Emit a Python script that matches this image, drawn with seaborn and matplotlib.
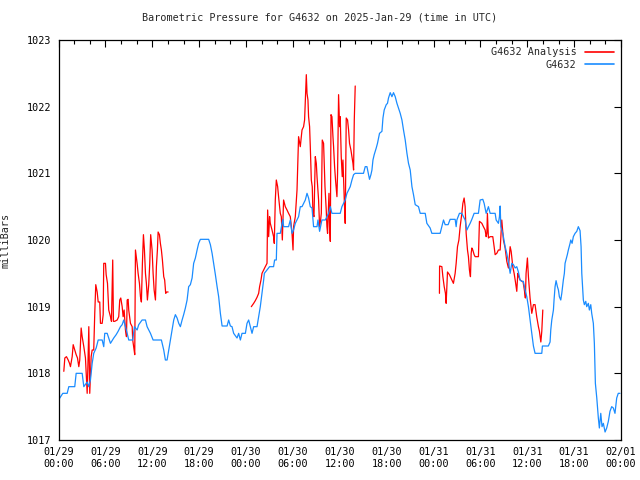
"""Barometric pressure for G4632 -- observed vs analysis, 2025-Jan-29 .. Feb-01."""

import matplotlib

matplotlib.use("Agg")
import matplotlib.dates as mdates
import matplotlib.pyplot as plt
import numpy as np
import pandas as pd
import seaborn as sns
from matplotlib.lines import Line2D

START = pd.Timestamp("2025-01-29 00:00")

# observed station pressure (hours since start, mbar)
obs_hours = [
    0.00, 0.55, 1.11, 1.32, 2.08, 2.26, 3.03, 3.24, 3.67, 3.87, 4.09, 4.31, 4.51,
    4.82, 5.08, 5.59, 5.79, 5.92, 6.23, 6.43, 6.65, 7.07, 7.38, 7.63, 7.93, 8.15,
    8.35, 8.57, 8.79, 8.99, 9.50, 9.72, 10.06, 10.27, 10.70, 11.13, 11.34, 11.77,
    12.11, 13.17, 13.47, 13.68, 13.90, 14.11, 14.32, 14.54, 14.75, 14.96, 15.18,
    15.39, 15.60, 15.82, 16.02, 16.24, 16.46, 16.66, 16.88, 17.10, 17.30, 17.52,
    17.74, 17.94, 18.16, 19.22, 19.44, 19.66, 19.86, 20.08, 20.30, 20.50, 20.72,
    20.94, 21.58, 21.78, 22.00, 22.21, 22.42, 22.85, 23.06, 23.28, 23.49, 23.92,
    24.13, 24.34, 24.55, 24.77, 24.98, 25.41, 25.62, 25.83, 26.05, 26.26, 26.35,
    26.69, 27.02, 27.53, 27.66, 27.88, 27.97, 28.39, 28.61, 28.74, 28.81, 29.45,
    29.67, 29.89, 30.09, 30.31, 30.73, 30.95, 31.17, 31.59, 31.81, 32.01, 32.23,
    32.45, 32.65, 33.09, 33.21, 33.42, 33.72, 34.15, 34.57, 34.79, 35.00, 36.06,
    36.28, 36.70, 36.92, 37.34, 37.56, 37.77, 37.98, 39.04, 39.26, 39.48, 39.68,
    39.81, 39.99, 40.12, 40.25, 40.41, 40.67, 40.83, 41.09, 41.40, 41.53, 41.69,
    41.95, 42.11, 42.24, 42.46, 42.68, 42.88, 43.10, 43.32, 43.52, 43.74, 43.96,
    44.16, 44.38, 44.60, 44.80, 45.02, 45.24, 45.44, 45.66, 46.08, 46.30, 46.94,
    47.15, 47.57, 47.79, 48.85, 49.07, 49.28, 49.49, 49.87, 50.13, 50.77, 50.90,
    50.99, 51.32, 51.63, 51.83, 52.05, 52.27, 52.47, 52.69, 52.91, 53.20, 53.75,
    53.97, 54.31, 54.48, 54.74, 55.03, 55.25, 55.89, 56.02, 56.31, 56.44, 56.53,
    56.62, 56.87, 57.17, 57.38, 57.59, 57.81, 58.02, 58.23, 58.45, 58.66, 58.87,
    59.08, 59.30, 59.50, 59.72, 59.94, 60.15, 60.36, 60.58, 60.79, 61.00, 61.43,
    61.86, 61.94, 62.70, 62.92, 63.01, 63.14, 63.35, 63.43, 63.56, 63.69, 63.86,
    63.99, 64.11, 64.29, 64.42, 64.62, 64.75, 64.84, 65.13, 65.26, 65.48, 65.57,
    65.74, 65.90, 66.12, 66.34, 66.54, 66.76, 66.89, 66.98, 67.10, 67.18, 67.31,
    67.49, 67.61, 67.82, 67.95, 68.13, 68.25, 68.46, 68.59, 68.72, 68.90, 69.10,
    69.23, 69.41, 69.57, 69.74, 69.96, 70.17, 70.38, 70.59, 70.81, 71.02, 71.23,
    71.45, 71.65, 71.87,
]
obs_mbar = [
    1017.60, 1017.70, 1017.70, 1017.80, 1017.80, 1018.00, 1018.00, 1017.80, 1017.87,
    1017.80, 1017.90, 1018.15, 1018.30, 1018.38, 1018.50, 1018.50, 1018.40, 1018.60,
    1018.60, 1018.53, 1018.45, 1018.53, 1018.58, 1018.63, 1018.70, 1018.73, 1018.80,
    1018.70, 1018.60, 1018.50, 1018.50, 1018.70, 1018.65, 1018.73, 1018.80, 1018.80,
    1018.70, 1018.60, 1018.50, 1018.50, 1018.35, 1018.20, 1018.20, 1018.35, 1018.50,
    1018.65, 1018.80, 1018.88, 1018.83, 1018.75, 1018.70, 1018.80, 1018.88, 1018.98,
    1019.10, 1019.30, 1019.33, 1019.43, 1019.65, 1019.73, 1019.85, 1019.95, 1020.01,
    1020.01, 1019.93, 1019.80, 1019.65, 1019.48, 1019.30, 1019.15, 1018.90, 1018.71,
    1018.71, 1018.80, 1018.71, 1018.70, 1018.60, 1018.53, 1018.60, 1018.50, 1018.60,
    1018.60, 1018.75, 1018.80, 1018.70, 1018.60, 1018.70, 1018.70, 1018.85, 1019.00,
    1019.20, 1019.40, 1019.50, 1019.55, 1019.60, 1019.60, 1019.70, 1019.70, 1020.10,
    1020.10, 1020.25, 1020.31, 1020.20, 1020.20, 1020.30, 1020.10, 1020.15, 1020.25,
    1020.35, 1020.50, 1020.50, 1020.60, 1020.70, 1020.63, 1020.50, 1020.48, 1020.20,
    1020.20, 1020.30, 1020.13, 1020.30, 1020.30, 1020.40, 1020.50, 1020.40, 1020.40,
    1020.50, 1020.60, 1020.70, 1020.80, 1020.90, 1020.98, 1021.00, 1021.00, 1021.10,
    1021.10, 1020.98, 1020.91, 1020.98, 1021.05, 1021.20, 1021.28, 1021.38, 1021.45,
    1021.60, 1021.63, 1021.83, 1021.95, 1022.03, 1022.05, 1022.13, 1022.21, 1022.15,
    1022.21, 1022.15, 1022.05, 1021.98, 1021.90, 1021.80, 1021.65, 1021.50, 1021.30,
    1021.15, 1021.05, 1020.80, 1020.68, 1020.53, 1020.50, 1020.40, 1020.40, 1020.25,
    1020.18, 1020.10, 1020.10, 1020.20, 1020.30, 1020.23, 1020.23, 1020.31, 1020.31,
    1020.20, 1020.30, 1020.40, 1020.40, 1020.35, 1020.30, 1020.15, 1020.20, 1020.25,
    1020.31, 1020.40, 1020.40, 1020.60, 1020.61, 1020.55, 1020.40, 1020.50, 1020.40,
    1020.40, 1020.30, 1020.25, 1020.35, 1020.51, 1020.20, 1020.10, 1019.90, 1019.80,
    1019.67, 1019.50, 1019.65, 1019.63, 1019.58, 1019.60, 1019.52, 1019.40, 1019.38,
    1019.38, 1019.25, 1019.15, 1019.00, 1018.80, 1018.60, 1018.41, 1018.30, 1018.30,
    1018.30, 1018.41, 1018.41, 1018.47, 1018.65, 1018.80, 1018.95, 1019.10, 1019.30,
    1019.39, 1019.30, 1019.25, 1019.15, 1019.10, 1019.20, 1019.40, 1019.50, 1019.65,
    1019.78, 1019.85, 1019.95, 1020.00, 1019.95, 1020.05, 1020.10, 1020.13, 1020.20,
    1020.14, 1019.90, 1019.50, 1019.25, 1019.10, 1019.03, 1019.08, 1019.00, 1019.05,
    1018.95, 1019.03, 1018.90, 1018.75, 1018.45, 1017.85, 1017.63, 1017.33, 1017.18,
    1017.40, 1017.20, 1017.25, 1017.12, 1017.18, 1017.28, 1017.43, 1017.50, 1017.48,
    1017.40, 1017.63, 1017.70, 1017.70,
]

# analysis runs -- three separate windows
ana1_hours = [
    0.68, 0.81, 1.02, 1.24, 1.41, 1.53, 1.75, 1.88, 2.08, 2.26, 2.43, 2.60, 2.72,
    2.90, 3.03, 3.24, 3.45, 3.67, 3.75, 3.88, 4.00, 4.18, 4.31, 4.51, 4.64, 4.77,
    4.95, 5.08, 5.28, 5.37, 5.59, 5.72, 5.79, 6.01, 6.10, 6.27, 6.43, 6.65, 6.78,
    6.94, 7.03, 7.20, 7.51, 7.71, 7.84, 7.97, 8.15, 8.27, 8.40, 8.57, 8.70, 8.79,
    8.91, 8.99, 9.21, 9.43, 9.50, 9.68, 9.76, 9.85, 10.06, 10.19, 10.36, 10.49,
    10.61, 10.74, 10.87, 11.00, 11.13, 11.25, 11.38, 11.55, 11.68, 11.80, 11.98,
    12.11, 12.24, 12.41, 12.53, 12.66, 12.75, 12.92, 13.04, 13.17, 13.30, 13.47,
    13.59, 13.72, 13.85, 14.03,
]
ana1_mbar = [
    1018.03, 1018.23, 1018.25, 1018.20, 1018.15, 1018.10, 1018.25, 1018.43, 1018.35,
    1018.28, 1018.23, 1018.10, 1018.20, 1018.68, 1018.55, 1018.40, 1018.23, 1017.70,
    1018.05, 1018.70, 1017.70, 1018.25, 1018.35, 1018.35, 1018.90, 1019.33, 1019.22,
    1019.07, 1019.07, 1018.75, 1018.75, 1018.88, 1019.65, 1019.65, 1019.48, 1019.35,
    1018.95, 1018.85, 1018.78, 1019.70, 1018.78, 1018.78, 1018.80, 1018.85, 1019.10,
    1019.13, 1019.00, 1018.85, 1018.95, 1018.65, 1018.55, 1019.10, 1019.11, 1018.95,
    1018.75, 1018.70, 1018.50, 1018.35, 1018.28, 1019.85, 1019.65, 1019.50, 1019.35,
    1019.15, 1019.07, 1019.65, 1020.08, 1019.85, 1019.50, 1019.35, 1019.10, 1019.33,
    1019.65, 1020.08, 1019.85, 1019.50, 1019.25, 1019.10, 1019.60, 1019.85, 1020.12,
    1020.08, 1019.95, 1019.85, 1019.70, 1019.45, 1019.40, 1019.20, 1019.22, 1019.22,
]
ana2_hours = [
    24.68, 24.98, 25.19, 25.41, 25.62, 25.74, 25.92, 26.05, 26.26, 26.47, 26.69,
    26.77, 26.90, 27.02, 27.11, 27.33, 27.53, 27.62, 27.75, 27.88, 28.05, 28.17,
    28.30, 28.39, 28.52, 28.65, 28.81, 29.03, 29.25, 29.45, 29.67, 29.89, 30.02,
    30.09, 30.31, 30.53, 30.73, 30.95, 31.08, 31.17, 31.37, 31.50, 31.72, 31.81,
    31.93, 32.01, 32.14, 32.23, 32.36, 32.48, 32.57, 32.70, 32.87, 33.00, 33.09,
    33.29, 33.42, 33.55, 33.64, 33.76, 33.93, 34.11, 34.27, 34.36, 34.44, 34.62,
    34.70, 34.79, 34.88, 35.00, 35.13, 35.21, 35.34, 35.46, 35.64, 35.72, 35.85,
    35.98, 36.06, 36.19, 36.32, 36.41, 36.58, 36.70, 36.83, 37.00, 37.13, 37.25,
    37.43, 37.56, 37.69, 37.77, 37.86, 37.98,
]
ana2_mbar = [
    1019.00, 1019.05, 1019.09, 1019.14, 1019.20, 1019.30, 1019.40, 1019.50, 1019.55,
    1019.60, 1019.65, 1020.45, 1020.05, 1020.35, 1020.25, 1020.15, 1020.05, 1019.95,
    1020.60, 1020.90, 1020.80, 1020.65, 1020.50, 1020.40, 1020.35, 1020.00, 1020.60,
    1020.50, 1020.45, 1020.40, 1020.35, 1020.10, 1019.85, 1020.20, 1020.35, 1020.75,
    1021.55, 1021.40, 1021.55, 1021.65, 1021.70, 1021.80, 1022.48, 1022.20, 1022.10,
    1021.85, 1021.70, 1021.40, 1020.90, 1020.80, 1020.40, 1020.35, 1021.25, 1021.15,
    1020.95, 1020.60, 1020.20, 1020.30, 1020.40, 1021.50, 1021.45, 1020.80, 1020.45,
    1020.20, 1020.10, 1020.70, 1020.20, 1019.98, 1021.88, 1021.85, 1021.55, 1021.40,
    1021.10, 1020.90, 1020.65, 1021.00, 1022.18, 1021.70, 1021.85, 1021.25, 1020.95,
    1021.20, 1020.60, 1020.25, 1021.83, 1021.80, 1021.65, 1021.45, 1021.35, 1021.25,
    1021.15, 1021.05, 1021.80, 1022.31,
]
ana3_hours = [
    48.76, 48.78, 49.07, 49.20, 49.37, 49.53, 49.62, 49.79, 50.04, 50.35, 50.55,
    50.77, 50.90, 51.07, 51.25, 51.41, 51.63, 51.76, 51.92, 52.05, 52.18, 52.35,
    52.47, 52.60, 52.73, 52.82, 52.91, 53.03, 53.20, 53.33, 53.75, 53.88, 54.19,
    54.39, 54.61, 54.74, 54.83, 54.90, 55.03, 55.25, 55.59, 55.76, 55.89, 56.10,
    56.31, 56.53, 56.74, 56.95, 57.17, 57.38, 57.59, 57.81, 57.94, 58.15, 58.32,
    58.48, 58.66, 58.79, 58.92, 59.08, 59.47, 59.63, 59.76, 59.85, 60.02, 60.15,
    60.36, 60.58, 60.79, 61.00, 61.21, 61.43, 61.56, 61.74, 61.86, 61.99,
]
ana3_mbar = [
    1019.20, 1019.61, 1019.60, 1019.45, 1019.30, 1019.20, 1019.05, 1019.52, 1019.48,
    1019.40, 1019.35, 1019.50, 1019.65, 1019.90, 1020.00, 1020.20, 1020.40, 1020.55,
    1020.63, 1020.50, 1020.10, 1019.85, 1019.75, 1019.55, 1019.45, 1019.80, 1019.88,
    1019.85, 1019.78, 1019.75, 1019.75, 1020.28, 1020.25, 1020.20, 1020.15, 1020.05,
    1020.10, 1020.40, 1020.03, 1020.05, 1020.05, 1019.90, 1019.78, 1019.80, 1019.85,
    1019.85, 1020.30, 1020.00, 1019.88, 1019.68, 1019.58, 1019.90, 1019.83, 1019.60,
    1019.50, 1019.38, 1019.23, 1019.50, 1019.45, 1019.40, 1019.37, 1019.25, 1019.13,
    1019.50, 1019.73, 1019.45, 1019.13, 1018.90, 1019.03, 1019.03, 1018.85, 1018.70,
    1018.63, 1018.47, 1018.63, 1018.95,
]

SERIES_COLORS = {"G4632 Analysis": "#ff0000", "G4632": "#1a8cff"}


def to_frame(hours, mbar, series, segment):
    return pd.DataFrame({
        "time": START + pd.to_timedelta(hours, unit="h"),
        "mbar": mbar,
        "series": series,
        "segment": segment,
    })


analysis = pd.concat([
    to_frame(ana1_hours, ana1_mbar, "G4632 Analysis", "a1"),
    to_frame(ana2_hours, ana2_mbar, "G4632 Analysis", "a2"),
    to_frame(ana3_hours, ana3_mbar, "G4632 Analysis", "a3"),
], ignore_index=True)
observed = to_frame(obs_hours, obs_mbar, "G4632", "obs")

sns.set_style("white")
plt.rcParams["font.family"] = ["DejaVu Sans Mono"]
plt.rcParams["font.size"] = 7.3

fig = plt.figure(figsize=(6.4, 4.8), dpi=100)
ax = fig.add_axes([58.5 / 640, 40 / 480, 562.5 / 640, 400 / 480])

for df in (analysis, observed):
    sns.lineplot(
        data=df, x="time", y="mbar", hue="series", units="segment",
        estimator=None, sort=False, palette=SERIES_COLORS, legend=False,
        linewidth=0.9, ax=ax,
    )

ax.set_xlim(START, START + pd.Timedelta(hours=72))
ax.set_ylim(1017, 1023)
ax.set_yticks(np.arange(1017, 1024, 1))
ax.xaxis.set_major_locator(mdates.HourLocator(byhour=[0, 6, 12, 18]))
ax.xaxis.set_minor_locator(mdates.HourLocator(byhour=range(0, 24, 2)))
ax.xaxis.set_major_formatter(mdates.DateFormatter("%m/%d\n%H:%M"))
ax.tick_params(which="both", direction="in", top=True, right=True,
               width=0.8, colors="black", labelsize=7.3, pad=5)
ax.tick_params(which="major", length=5)
ax.tick_params(which="minor", length=3)
for spine in ax.spines.values():
    spine.set_linewidth(0.9)
    spine.set_color("black")

ax.set_xlabel("")
ax.set_ylabel("milliBars", labelpad=12)
fig.suptitle("Barometric Pressure for G4632 on 2025-Jan-29 (time in UTC)",
             y=0.975, fontsize=7.3)

handles = [Line2D([], [], color=c, linewidth=1.2) for c in SERIES_COLORS.values()]
ax.legend(handles, list(SERIES_COLORS), loc="upper right", frameon=False,
          markerfirst=False, handlelength=2.9, handletextpad=0.8,
          labelspacing=0.25, borderaxespad=0.3, fontsize=7.3)

fig.savefig("out.png", dpi=100)
plt.close(fig)
